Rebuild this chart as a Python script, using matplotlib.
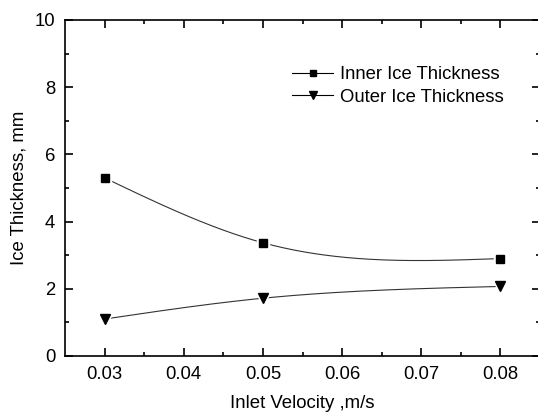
import matplotlib
matplotlib.use("Agg")
import matplotlib.pyplot as plt
import numpy as np

plt.rcParams['font.family'] = ['Liberation Sans', 'DejaVu Sans']

velocity = [0.03, 0.05, 0.08]
inner_ice = [5.3, 3.37, 2.9]
outer_ice = [1.1, 1.72, 2.07]
labels = ["Inner Ice Thickness", "Outer Ice Thickness"]


def natural_spline(x, y, n=200):
    # natural cubic spline through the points, for the smooth connecting line
    x = np.asarray(x, float)
    y = np.asarray(y, float)
    k = len(x)
    h = np.diff(x)
    A = np.zeros((k, k))
    b = np.zeros(k)
    A[0, 0] = 1
    A[-1, -1] = 1
    for i in range(1, k - 1):
        A[i, i - 1] = h[i - 1]
        A[i, i] = 2 * (h[i - 1] + h[i])
        A[i, i + 1] = h[i]
        b[i] = 6 * ((y[i + 1] - y[i]) / h[i] - (y[i] - y[i - 1]) / h[i - 1])
    m = np.linalg.solve(A, b)
    xs = np.linspace(x[0], x[-1], n)
    ys = np.empty_like(xs)
    for j, xv in enumerate(xs):
        i = min(np.searchsorted(x, xv, side='right') - 1, k - 2)
        t = xv - x[i]
        hi = h[i]
        a = (m[i + 1] - m[i]) / (6 * hi)
        bb = m[i] / 2
        c = (y[i + 1] - y[i]) / hi - hi * (2 * m[i] + m[i + 1]) / 6
        ys[j] = y[i] + c * t + bb * t ** 2 + a * t ** 3
    return xs, ys


fig = plt.figure(figsize=(5.38, 4.13), dpi=100)
ax = fig.add_axes([65 / 538, 57 / 413, 475 / 538, 336 / 413])

for vals, mk, ms, lab in [(inner_ice, 's', 7, labels[0]), (outer_ice, 'v', 8, labels[1])]:
    xs, ys = natural_spline(velocity, vals)
    ax.plot(xs, ys, color='#333333', lw=0.8, zorder=2)
    ax.plot(velocity, vals, ls='none', marker=mk, ms=ms, mfc='black',
            mec='white', mew=2.5, zorder=3)
    ax.plot(velocity, vals, ls='none', marker=mk, ms=ms - 1.5, color='black', zorder=4)
    # legend proxy
    ax.plot([], [], color='black', lw=0.8, marker=mk, ms=ms - 2, label=lab)

ax.set_xlim(0.025, 0.085)
ax.set_ylim(0, 10)
ax.set_xticks([0.03, 0.04, 0.05, 0.06, 0.07, 0.08])
ax.set_xticks(np.arange(0.035, 0.085, 0.01), minor=True)
ax.set_yticks([0, 2, 4, 6, 8, 10])
ax.set_yticks([1, 3, 5, 7, 9], minor=True)
ax.tick_params(which='both', direction='in', top=True, right=True, labelsize=13.3, width=1.2)
ax.tick_params(which='major', length=6, pad=7)
ax.tick_params(which='minor', length=3)
for s in ax.spines.values():
    s.set_linewidth(1.2)

ax.set_xlabel("Inlet Velocity ,m/s", fontsize=13.4, labelpad=9)
ax.set_ylabel("Ice Thickness, mm", fontsize=13.4, labelpad=5)

ax.legend(loc='upper left', bbox_to_anchor=(0.463, 0.885), frameon=False, fontsize=13.3,
          handlelength=2.2, handletextpad=0.4, labelspacing=0.3, borderaxespad=0)

fig.savefig("out.png", dpi=100)
